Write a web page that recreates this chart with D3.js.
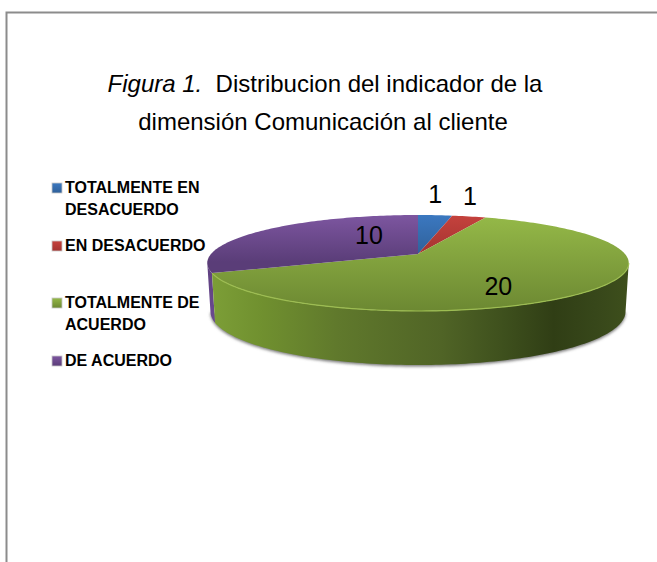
<!DOCTYPE html>
<html>
<head>
<meta charset="utf-8">
<script src="https://cdnjs.cloudflare.com/ajax/libs/d3/7.8.5/d3.min.js"></script>
<style>
  html, body { margin: 0; padding: 0; background: #fff; }
  svg { display: block; }
  text { font-family: 'Liberation Sans', Arial, sans-serif; fill: #000; }
</style>
</head>
<body>
<div class="graph"></div>
<script>
const categories = ['TOTALMENTE EN DESACUERDO', 'EN DESACUERDO', 'TOTALMENTE DE ACUERDO', 'DE ACUERDO'];
const values = [1, 1, 20, 10];
const legendLines = [['TOTALMENTE EN', 'DESACUERDO'], ['EN DESACUERDO'], ['TOTALMENTE DE', 'ACUERDO'], ['DE ACUERDO']];

const w = 657;
const h = 562;
const topColors = [['#3b78c0', '#2f6099'], ['#c5423d', '#a33330'], ['#95b948', '#6c8832'], ['#7d56a0', '#5a3d78']];
const legendY = [193, 251, 308, 366];
const labelPlace = [
  { r: 1, dx: 0, dy: -3 },
  { r: 1, dx: 1, dy: -3 },
  { r: 0.5, dx: 2, dy: 23 },
  { r: 0.3, dx: 1, dy: -3 }
];

// the pie sits on a tilted plane, so it is drawn through a small perspective projection
const cx = 418;
const cy = 254;
const rx = 207;
const ry = 46.3;
const persp = 0.1875;
const depth = 47;

function project(angle, r) {
  const u = r * Math.sin(angle);
  const v = r * Math.cos(angle);
  const s = 1 / (1 + persp * v);
  return [cx + rx * u * s, cy - ry * v * s];
}

function projectBottom(angle) {
  const p = project(angle, 1);
  const v = Math.cos(angle);
  return [cx + (p[0] - cx) * 0.985, p[1] + depth * (1 - 0.15 * v)];
}

function arcPoints(a0, a1, fn) {
  const n = Math.max(2, Math.ceil(Math.abs(a1 - a0) / 0.02));
  return d3.range(n + 1).map((i) => fn(a0 + (a1 - a0) * i / n));
}

const line = d3.line();
const arcs = d3.pie().sort(null)(values);
const edgeRight = Math.acos(-persp);
const edgeLeft = 2 * Math.PI - edgeRight;

const svg = d3.select('.graph')
  .append('svg')
  .attr('width', w)
  .attr('height', h);

const defs = svg.append('defs');

defs.append('filter')
  .attr('id', 'blur')
  .attr('x', '-10%').attr('y', '-20%').attr('width', '120%').attr('height', '140%')
  .append('feGaussianBlur')
  .attr('stdDeviation', 1.8);

topColors.forEach((c, i) => {
  const g = defs.append('linearGradient')
    .attr('id', `top${i}`)
    .attr('gradientUnits', 'userSpaceOnUse')
    .attr('x1', 0).attr('x2', 0).attr('y1', 215).attr('y2', 311);
  g.append('stop').attr('offset', 0).attr('stop-color', c[0]);
  g.append('stop').attr('offset', i === 0 || i === 1 ? 0.42 : 1).attr('stop-color', c[1]);

  const lg = defs.append('linearGradient')
    .attr('id', `legend${i}`)
    .attr('x1', 0).attr('x2', 0).attr('y1', 0).attr('y2', 1);
  lg.append('stop').attr('offset', 0).attr('stop-color', c[0]);
  lg.append('stop').attr('offset', 1).attr('stop-color', c[1]);
});

// purple slice is much lighter at the far rim, so it gets a shorter gradient
defs.select('#top3').attr('y2', 262);

const wallStops = [[0, '#7c9e37'], [0.12, '#70902f'], [0.3, '#60792c'], [0.55, '#506426'], [0.7, '#3e501d'], [0.82, '#303e15'], [0.92, '#37471a'], [1, '#3e4f1c']];
const wallGrad = defs.append('linearGradient').attr('id', 'wallGreen');
wallStops.forEach((d) => wallGrad.append('stop').attr('offset', d[0]).attr('stop-color', d[1]));

const wallPurple = defs.append('linearGradient')
  .attr('id', 'wallPurple')
  .attr('x1', 0).attr('x2', 0).attr('y1', 0).attr('y2', 1);
wallPurple.append('stop').attr('offset', 0).attr('stop-color', '#5f4080');
wallPurple.append('stop').attr('offset', 1).attr('stop-color', '#6a4a90');

// frame
svg.append('path')
  .attr('d', `M${w},12.5 H6.5 V${h}`)
  .attr('fill', 'none')
  .attr('stroke', '#8c8c8c')
  .attr('stroke-width', 2);

// title
const title = svg.append('text').attr('text-anchor', 'middle').style('font-size', '24px');
const t1 = title.append('tspan').attr('x', 325).attr('y', 92);
t1.append('tspan').style('font-style', 'italic').text('Figura 1.');
t1.append('tspan').attr('xml:space', 'preserve').text('\u00a0 Distribucion del indicador de la');
title.append('tspan').attr('x', 323).attr('y', 130).text('dimensión Comunicación al cliente');

// soft shadow under the wall
const bottomRim = arcPoints(edgeRight, edgeLeft, projectBottom);
svg.append('path')
  .attr('d', line(bottomRim.map((p) => [p[0], p[1] + 1.5])) + 'Z')
  .attr('fill', '#777')
  .attr('filter', 'url(#blur)');

// side walls, far to near
function wall(a0, a1, fill) {
  const pts = arcPoints(a0, a1, (a) => project(a, 1))
    .concat(arcPoints(a1, a0, projectBottom));
  svg.append('path')
    .attr('d', line(pts) + 'Z')
    .attr('fill', fill);
}
wall(arcs[3].startAngle, edgeLeft, 'url(#wallPurple)');
wall(edgeRight, arcs[2].endAngle, 'url(#wallGreen)');

// top face
svg.append('g')
  .selectAll('path')
  .data(arcs)
  .enter()
  .append('path')
  .attr('d', (d) => line([[cx, cy]].concat(arcPoints(d.startAngle, d.endAngle, (a) => project(a, 1)))) + 'Z')
  .attr('fill', (d, i) => `url(#top${i})`);

// bevel highlight along the near rim
svg.append('path')
  .attr('d', line(arcPoints(edgeRight, arcs[2].endAngle, (a) => project(a, 1))))
  .attr('fill', 'none')
  .attr('stroke', '#9dbd52')
  .attr('stroke-width', 1.2);

// data labels
svg.append('g')
  .selectAll('text')
  .data(arcs)
  .enter()
  .append('text')
  .attr('x', (d, i) => project((d.startAngle + d.endAngle) / 2, labelPlace[i].r)[0] + labelPlace[i].dx)
  .attr('y', (d, i) => project((d.startAngle + d.endAngle) / 2, labelPlace[i].r)[1] + labelPlace[i].dy)
  .attr('text-anchor', 'middle')
  .attr('dy', (d, i) => i < 2 ? '-0.35em' : '0')
  .style('font-size', '25px')
  .text((d) => d.data);

// legend
const legend = svg.append('g')
  .selectAll('g')
  .data(categories)
  .enter()
  .append('g')
  .attr('class', 'legend');

legend.append('rect')
  .attr('x', 52)
  .attr('y', (d, i) => legendY[i] - 10)
  .attr('width', 10)
  .attr('height', 10)
  .attr('fill', (d, i) => `url(#legend${i})`)
  .attr('stroke', '#c8c8c8')
  .attr('stroke-width', 0.8);

legend.each(function (d, i) {
  d3.select(this).selectAll('text')
    .data(legendLines[i])
    .enter()
    .append('text')
    .attr('x', 65)
    .attr('y', (l, j) => legendY[i] + j * 22)
    .style('font-size', '16px')
    .style('font-weight', 'bold')
    .text((l) => l);
});
</script>
</body>
</html>
